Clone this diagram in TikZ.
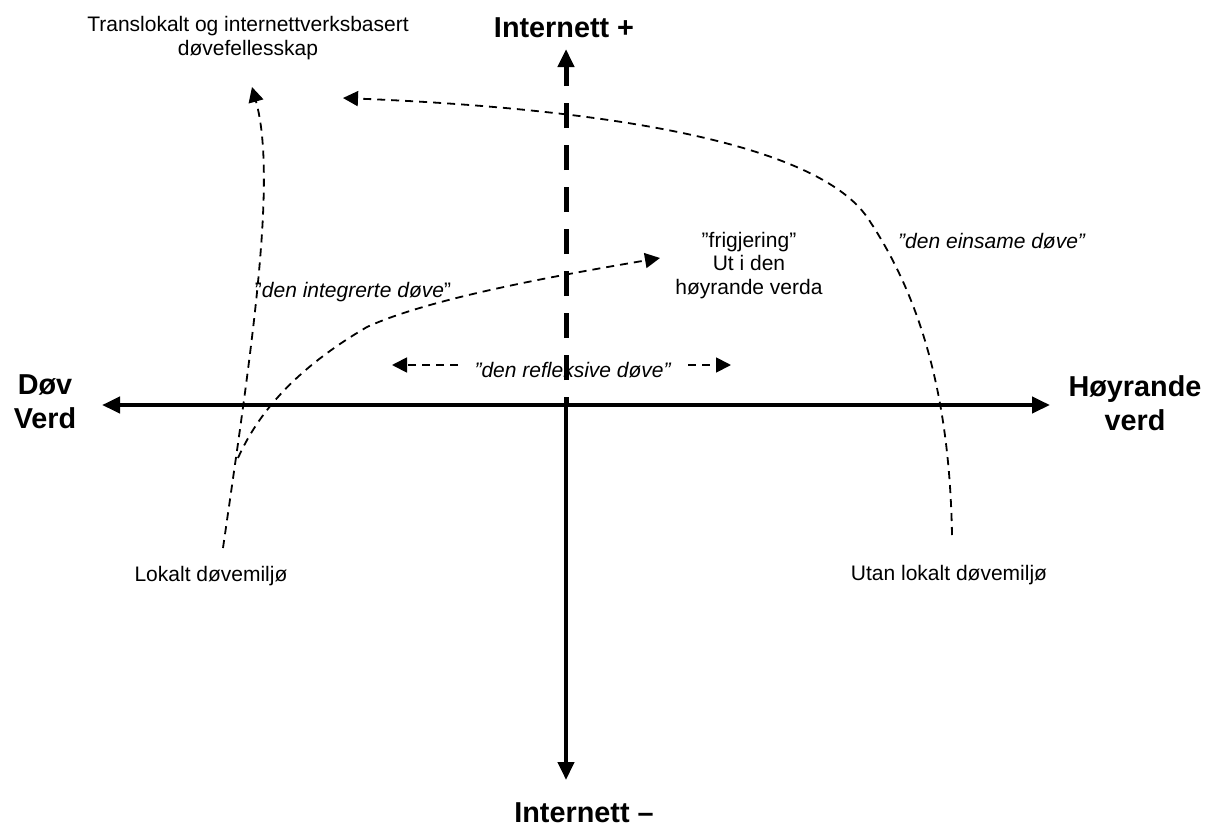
\documentclass[tikz,border=0pt]{standalone}
\usepackage{fontspec}
\setmainfont{Liberation Sans}
\usetikzlibrary{arrows.meta}
\begin{document}
\begin{tikzpicture}[x=0.5pt,y=-0.5pt,
  lbl/.style={inner sep=0pt, font=\fontsize{10.5pt}{11.7pt}\selectfont, align=center},
  axlbl/.style={inner sep=0pt, font=\fontsize{14.4pt}{16.8pt}\selectfont\bfseries, align=center},
  axisline/.style={line width=2.2pt, -{Triangle[length=9pt,width=8pt]}},
  axisdash/.style={axisline, line width=2.5pt, dash pattern=on 12.5pt off 8.5pt, dash phase=8.5pt},
  flow/.style={line width=0.9pt, dash pattern=on 4pt off 3pt, -{Triangle[length=7.5pt,width=7.5pt]}}]
\useasboundingbox (0,0) rectangle (1216,830);
% axes
\coordinate (O) at (566,405);
\coordinate (Lt) at (102,405);
\coordinate (Rt) at (1050,405);
\coordinate (Tt) at (566,49);
\coordinate (Bt) at (566,780);
\draw[axisline] (O) -- (Lt);
\draw[axisline] (O) -- (Rt);
\draw[axisline] (O) -- (Bt);
\draw[axisdash] (O) -- (Tt);
% axis labels
\node[axlbl, anchor=base] (ip) at (564,38) {Internett +};
\node[axlbl, anchor=base] (im) at (584,822) {Internett –};
\node[axlbl, anchor=base] (dv) at (45,428) {Døv\\Verd};
\node[axlbl, anchor=base] (hv) at (1135,430) {Høyrande\\verd};
% other labels
\node[lbl, anchor=base] (trans) at (248,55) {Translokalt og internettverksbasert\\døvefellesskap};
\node[lbl, anchor=base] (frig) at (749,294) {”frigjering”\\Ut i den\\høyrande verda};
\node[lbl, anchor=base] (integ) at (353,297) {”\textit{den integrerte døve}”};
\node[lbl, anchor=base] (refl) at (573,377) {\textit{”den refleksive døve”}};
\node[lbl, anchor=base] (eins) at (992,248) {\textit{”den einsame døve”}};
\node[lbl, anchor=base] (lok) at (211,581) {Lokalt døvemiljø};
\node[lbl, anchor=base] (utan) at (949,580) {Utan lokalt døvemiljø};
% refleksive arrows
\coordinate (rl0) at (458,365);
\coordinate (rl1) at (392,365);
\coordinate (rr0) at (688,365);
\coordinate (rr1) at (731,365);
\draw[flow] (rl0) -- (rl1);
\draw[flow] (rr0) -- (rr1);
% curves
\coordinate (lokS) at (223,548);
\coordinate (lokE) at (252,87);
\draw[flow] (lokS) .. controls (250,360) and (278,180) .. (lokE);
\coordinate (intS) at (238,458);
\coordinate (intM) at (367,327);
\coordinate (intE) at (660,258);
\draw[flow] (intS) .. controls (256,418) and (290,372) .. (intM) .. controls (430,298) and (560,275) .. (intE);
\coordinate (einS) at (952,535);
\coordinate (einM) at (867,217);
\coordinate (einE) at (343,98);
\draw[flow] (einS) .. controls (950,420) and (930,310) .. (einM) .. controls (820,150) and (640,110) .. (einE);
\end{tikzpicture}
\end{document}
